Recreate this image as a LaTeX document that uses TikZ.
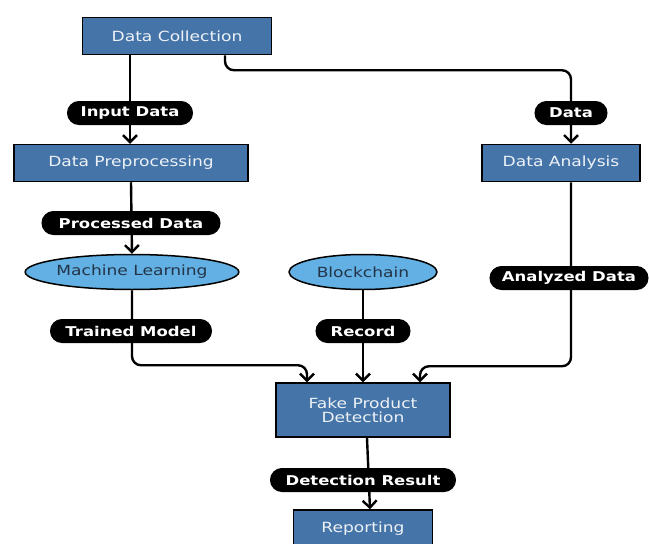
\documentclass[tikz,border=0pt]{standalone}
\usepackage{fontspec}
\setmainfont{DejaVu Sans}
\newfontfamily\widefont[FakeStretch=1.22]{DejaVu Sans}
\usetikzlibrary{arrows.meta,shapes.geometric,shapes.misc,calc}
\definecolor{boxblue}{HTML}{4474A8}
\definecolor{ellblue}{HTML}{62B0E4}
\definecolor{boxtext}{HTML}{EEF2F7}
\definecolor{elltext}{HTML}{243447}
\begin{document}
\begin{tikzpicture}[x=1pt,y=-1pt,
  procbox/.style={draw=black,line width=1.5pt,fill=boxblue,text=boxtext,
    minimum height=37pt,inner sep=0pt,font=\widefont\fontsize{14}{15}\selectfont,align=center},
  ellnode/.style={ellipse,draw=black,line width=1.5pt,fill=ellblue,text=elltext,
    minimum height=35pt,inner sep=0pt,font=\widefont\fontsize{14}{15}\selectfont},
  pill/.style={rounded rectangle,fill=black,draw=black,line width=1pt,text=white,
    minimum height=23pt,inner sep=0pt,font=\widefont\bfseries\fontsize{13.5}{15}\selectfont},
  conn/.style={draw=black,line width=2.4pt,rounded corners=9pt,
    -{Straight Barb[length=7pt,width=14pt,line width=2.4pt]}}
]
\useasboundingbox (0,0) rectangle (649,544);
\clip (0,0) rectangle (649,544);
\fill[white] (0,0) rectangle (649,544);

% nodes
\node[procbox,minimum width=189pt] (dc) at (177,36) {Data Collection};
\node[procbox,minimum width=234pt] (dp) at (131,163) {Data Preprocessing};
\node[procbox,minimum width=158pt] (da) at (561,163) {Data Analysis};
\node[ellnode,minimum width=212pt] (ml) at (132,272) {Machine Learning};
\node[ellnode,minimum width=148pt] (bc) at (363,272) {Blockchain};
\node[procbox,minimum width=174pt,minimum height=54pt] (fpd) at (363,410) {Fake Product\\[-1pt]Detection};
\node[procbox,minimum width=139pt,minimum height=40pt] (rep) at (363,530) {\raisebox{5pt}{Reporting}};

% connectors
\draw[conn] ([xshift=-47]dc.south) -- ([xshift=-1]dp.north);
\draw[conn] ([xshift=48]dc.south) -- ++(0,15) -| ([xshift=10]da.north);
\draw[conn] (dp.south) -- (ml.north);
\draw[conn] (ml.south) -- ++(0,75) -| ([xshift=-56]fpd.north);
\draw[conn] (bc.south) -- (fpd.north);
\draw[conn] ([xshift=10]da.south) -- ++(0,184) -| ([xshift=57]fpd.north);
\draw[conn] ([xshift=4]fpd.south) -- ([xshift=7]rep.north);

% labels
\node[pill,minimum width=125pt] (l1) at (130,113) {Input Data};
\node[pill,minimum width=72pt] (l2) at (571,113) {Data};
\node[pill,minimum width=178pt] (l3) at (131,223) {Processed Data};
\node[pill,minimum width=161pt] (l4) at (131,331) {Trained Model};
\node[pill,minimum width=94pt] (l5) at (363,331) {Record};
\node[pill,minimum width=158pt] (l6) at (569,278) {Analyzed Data};
\node[pill,minimum width=185pt] (l7) at (363,480) {Detection Result};
\end{tikzpicture}
\end{document}
